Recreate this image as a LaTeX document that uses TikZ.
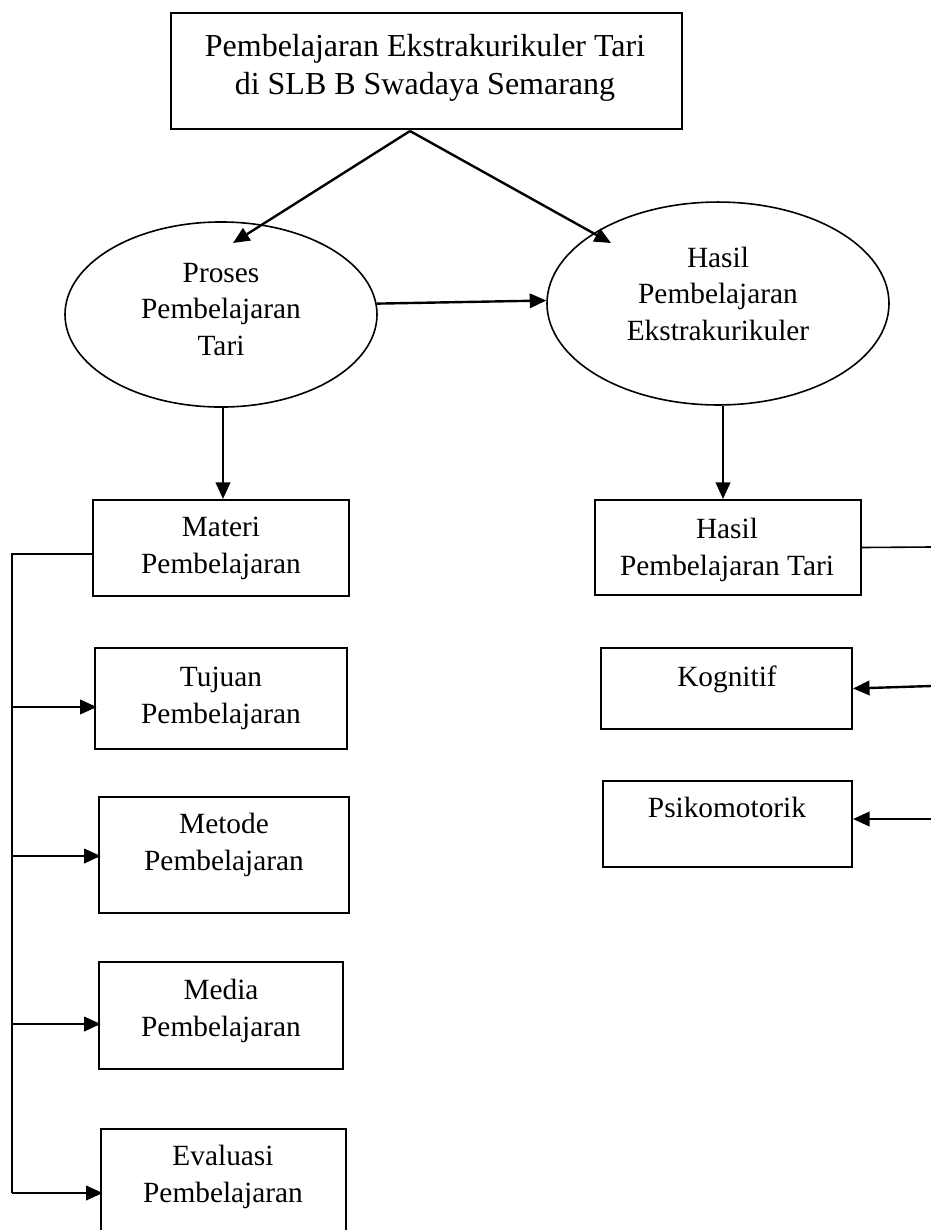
\documentclass[tikz,border=0pt]{standalone}
\usepackage{fontspec}
\setmainfont{Liberation Serif}
\usetikzlibrary{arrows.meta,shapes.geometric,fit}
\begin{document}
\begin{tikzpicture}[x=0.375pt,y=-0.375pt,
  box/.style={draw,rectangle,line width=0.75pt,inner sep=0pt},
  oval/.style={draw,ellipse,line width=0.6pt,inner sep=0pt},
  txt/.style={align=center,inner sep=0pt,anchor=base,font=\fontsize{11}{13.6}\selectfont},
  bigtxt/.style={txt,font=\fontsize{12}{14.25}\selectfont},
  arr/.style={-{Triangle[length=6.2pt,width=5.4pt]},line width=0.9pt},
  ln/.style={line width=0.8pt},
  thinln/.style={line width=0.6pt}]
\useasboundingbox (0,0) rectangle (931,1230);
\fill[white] (0,0) rectangle (931,1230);
\clip (0,0) rectangle (931,1230);

% top
\node[box,fit={(171,13)(682,129)}] (top) {};
\node[bigtxt] (toptext) at (425,94) {Pembelajaran Ekstrakurikuler Tari\\di SLB B Swadaya Semarang};
\coordinate (topout) at (410,131);

% ellipses
\node[oval,minimum width=117pt,minimum height=69.4pt] (proses) at (221,314.5) {};
\node[txt] (prosestext) at (221,355) {Proses\\Pembelajaran\\Tari};
\node[oval,minimum width=128.25pt,minimum height=76.1pt] (hasil) at (718,303.5) {};
\node[txt] (hasiltext) at (718,340) {Hasil\\Pembelajaran\\Ekstrakurikuler};
\coordinate (ptip) at (233,243);
\coordinate (htip) at (611,243);
\draw[arr] (topout) -- (ptip);
\draw[arr] (topout) -- (htip);
\draw[arr] (proses.4) -- (hasil.179);

% second level boxes
\node[box,fit={(93,500)(349,596)}] (materi) {};
\node[txt] (materitext) at (221,573) {Materi\\Pembelajaran};
\node[box,fit={(595,500)(861,595)}] (hpt) {};
\node[txt] (hpttext) at (727,575) {Hasil\\Pembelajaran Tari};
\draw[arr] ([xshift=0.75pt]proses.south) -- ([xshift=0.75pt]proses.south |- materi.north);
\draw[arr] ([xshift=1.875pt]hasil.south) -- ([xshift=1.875pt]hasil.south |- hpt.north);

% left column
\node[box,fit={(95,648)(347,749)}] (tujuan) {};
\node[txt] (tujuantext) at (221,723) {Tujuan\\Pembelajaran};
\node[box,fit={(99,797)(349,913)}] (metode) {};
\node[txt] (metodetext) at (224,870) {Metode\\Pembelajaran};
\node[box,fit={(99,962)(343,1069)}] (media) {};
\node[txt] (mediatext) at (221,1036) {Media\\Pembelajaran};
\node[box,fit={(101,1129)(346,1245)}] (evaluasi) {};
\node[txt] (evaluasitext) at (223,1202) {Evaluasi\\Pembelajaran};

\coordinate (spinebot) at (12,1193);
\draw[ln] ([yshift=-2.25pt]materi.west) -| (spinebot);
\coordinate (s1) at (12,707);
\coordinate (s2) at (12,856);
\coordinate (s3) at (12,1024);
\draw[arr] (s1) -- ([xshift=1pt]s1 -| tujuan.west);
\draw[arr] (s2) -- ([xshift=1pt]s2 -| metode.west);
\draw[arr] (s3) -- ([xshift=1pt]s3 -| media.west);
\draw[arr] (spinebot) -- ([xshift=1pt]spinebot -| evaluasi.west);

% right column
\node[box,fit={(601,648)(852,729)}] (kog) {};
\node[txt] (kogtext) at (727,686) {Kognitif};
\node[box,fit={(603,781)(852,867)}] (psi) {};
\node[txt] (psitext) at (727,817) {Psikomotorik};
\coordinate (redge) at (931,547);
\draw[thinln] (hpt.east) -- (redge);
\coordinate (k0) at (931,686);
\coordinate (p0) at (931,819);
\draw[arr] (k0) -- (kog.east);
\draw[arr] (p0) -- (p0 -| psi.east);
\end{tikzpicture}
\end{document}
